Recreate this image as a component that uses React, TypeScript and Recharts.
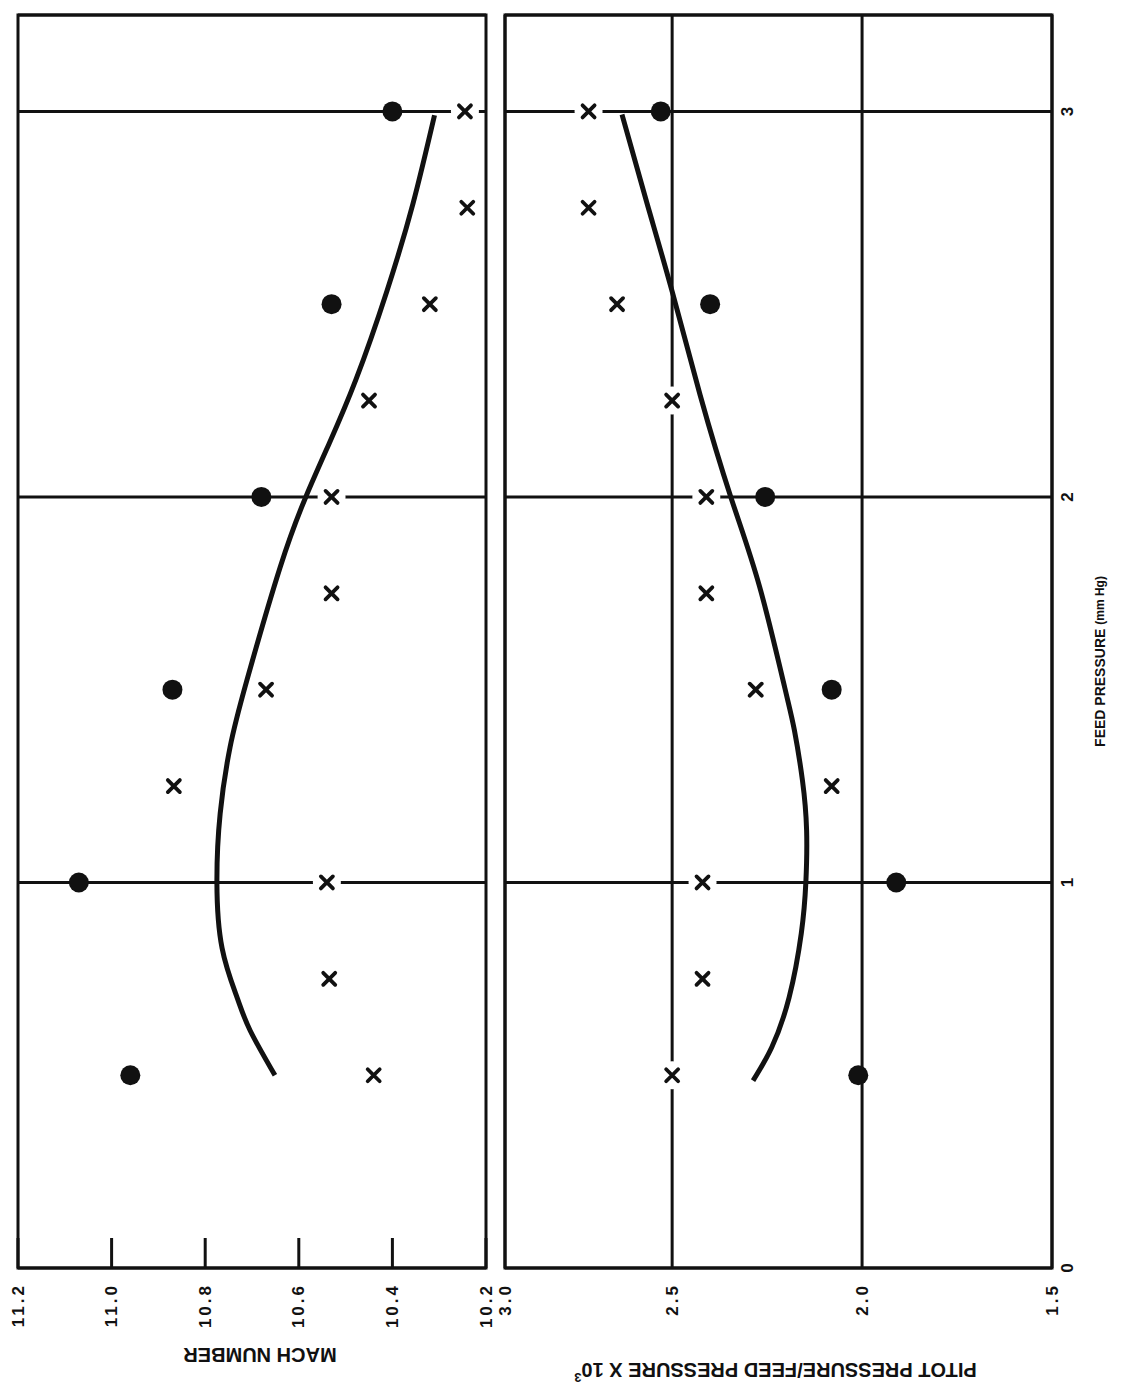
import React from 'react';
import { ComposedChart, XAxis, YAxis, Line, Scatter, ReferenceArea, CartesianGrid, Label } from 'recharts';

// Feed pressure (mm Hg) axis
const feedTicks = [0, 1, 2, 3];
const feedDomain = [0, 3.25];

// Mach number panel
const machTicks = [10.2, 10.4, 10.6, 10.8, 11.0, 11.2];
const machDomain = [10.2, 11.2];
const machCircles = [
  { fp: 0.5, v: 10.96 },
  { fp: 1.0, v: 11.07 },
  { fp: 1.5, v: 10.87 },
  { fp: 2.0, v: 10.68 },
  { fp: 2.5, v: 10.53 },
  { fp: 3.0, v: 10.4 },
];
const machCrosses = [
  { fp: 0.5, v: 10.44 },
  { fp: 0.75, v: 10.535 },
  { fp: 1.0, v: 10.54 },
  { fp: 1.25, v: 10.867 },
  { fp: 1.5, v: 10.67 },
  { fp: 1.75, v: 10.53 },
  { fp: 2.0, v: 10.53 },
  { fp: 2.25, v: 10.45 },
  { fp: 2.5, v: 10.32 },
  { fp: 2.75, v: 10.24 },
  { fp: 3.0, v: 10.245 },
];
const machFit = [
  { fp: 0.5, v: 10.651 },
  { fp: 0.616, v: 10.704 },
  { fp: 0.702, v: 10.732 },
  { fp: 0.83, v: 10.764 },
  { fp: 1.0, v: 10.775 },
  { fp: 1.179, v: 10.768 },
  { fp: 1.35, v: 10.747 },
  { fp: 1.524, v: 10.711 },
  { fp: 1.817, v: 10.64 },
  { fp: 2.0, v: 10.585 },
  { fp: 2.136, v: 10.536 },
  { fp: 2.304, v: 10.478 },
  { fp: 2.533, v: 10.412 },
  { fp: 2.761, v: 10.356 },
  { fp: 2.99, v: 10.31 },
];

// Pitot pressure / feed pressure x 10^3 panel
const pitotTicks = [1.5, 2.0, 2.5, 2.94];
const pitotTickLabels = ['1.5', '2.0', '2.5', '3.0'];
const pitotDomain = [1.5, 2.94];
const pitotCircles = [
  { fp: 0.5, v: 2.01 },
  { fp: 1.0, v: 1.91 },
  { fp: 1.5, v: 2.08 },
  { fp: 2.0, v: 2.255 },
  { fp: 2.5, v: 2.4 },
  { fp: 3.0, v: 2.53 },
];
const pitotCrosses = [
  { fp: 0.5, v: 2.5 },
  { fp: 0.75, v: 2.42 },
  { fp: 1.0, v: 2.42 },
  { fp: 1.25, v: 2.08 },
  { fp: 1.5, v: 2.28 },
  { fp: 1.75, v: 2.41 },
  { fp: 2.0, v: 2.41 },
  { fp: 2.25, v: 2.5 },
  { fp: 2.5, v: 2.645 },
  { fp: 2.75, v: 2.72 },
  { fp: 3.0, v: 2.72 },
];
const pitotFit = [
  { fp: 0.486, v: 2.287 },
  { fp: 0.572, v: 2.238 },
  { fp: 0.702, v: 2.192 },
  { fp: 0.868, v: 2.16 },
  { fp: 1.0, v: 2.148 },
  { fp: 1.135, v: 2.146 },
  { fp: 1.265, v: 2.157 },
  { fp: 1.394, v: 2.178 },
  { fp: 1.503, v: 2.203 },
  { fp: 1.768, v: 2.27 },
  { fp: 1.998, v: 2.345 },
  { fp: 2.263, v: 2.426 },
  { fp: 2.533, v: 2.5 },
  { fp: 2.761, v: 2.566 },
  { fp: 2.992, v: 2.632 },
];

const FONT = '"Liberation Sans", Arial, Helvetica, sans-serif';
const INK = '#111';

const Dot = (p: any) => <circle cx={p.cx} cy={p.cy} r={10} fill={INK} />;

const Cross = (p: any) => {
  const s = 6;
  const { cx, cy } = p;
  return (
    <g>
      <circle cx={cx} cy={cy} r={14} fill="#fff" />
      <path
        d={`M${cx - s},${cy - s}L${cx + s},${cy + s}M${cx - s},${cy + s}L${cx + s},${cy - s}`}
        stroke={INK}
        strokeWidth={3.8}
        strokeLinecap="round"
      />
    </g>
  );
};

const EmptyTick = () => <g />;

const MachTick = (props: any) => {
  const { x, y, payload } = props;
  return (
    <g>
      <line x1={x + 15} x2={x + 45} y1={y} y2={y} stroke={INK} strokeWidth={3} />
      <text
        x={x}
        y={y}
        textAnchor="end"
        dominantBaseline="central"
        fontSize={17}
        fontWeight="bold"
        letterSpacing={3}
        fontFamily={FONT}
        fill={INK}
      >
        {Number(payload.value).toFixed(1)}
      </text>
    </g>
  );
};

const PitotTick = (props: any) => {
  const { x, y, payload, index } = props;
  return (
    <text
      x={x}
      y={y}
      textAnchor="end"
      dominantBaseline="central"
      fontSize={17}
      fontWeight="bold"
      letterSpacing={3}
      fontFamily={FONT}
      fill={INK}
    >
      {pitotTickLabels[index] ?? String(payload.value)}
    </text>
  );
};

const FeedTick = (props: any) => {
  const { x, y, payload } = props;
  return (
    <text
      x={x}
      y={y}
      textAnchor="middle"
      dominantBaseline="central"
      fontSize={17}
      fontWeight="bold"
      fontFamily={FONT}
      fill={INK}
    >
      {payload.value}
    </text>
  );
};

const MachTitle = (props: any) => {
  const vb = props.viewBox || {};
  const cx = vb.x + 31;
  const cy = vb.y + vb.height / 2 + 8;
  return (
    <text
      x={cx}
      y={cy}
      transform={`rotate(-90, ${cx}, ${cy})`}
      textAnchor="middle"
      dominantBaseline="central"
      fontSize={20}
      fontWeight="bold"
      fontFamily={FONT}
      fill={INK}
    >
      MACH NUMBER
    </text>
  );
};

const PitotTitle = (props: any) => {
  const vb = props.viewBox || {};
  const cx = vb.x + 16;
  const cy = vb.y + vb.height / 2 - 3;
  return (
    <text
      x={cx}
      y={cy}
      transform={`rotate(-90, ${cx}, ${cy})`}
      textAnchor="middle"
      dominantBaseline="central"
      fontSize={20}
      fontWeight="bold"
      fontFamily={FONT}
      fill={INK}
    >
      PITOT PRESSURE/FEED PRESSURE X 10
      <tspan fontSize={13} dy={-8}>3</tspan>
    </text>
  );
};

const FeedTitle = (props: any) => {
  const vb = props.viewBox || {};
  const cx = vb.x + vb.width / 2 - 20;
  const cy = vb.y + 48;
  return (
    <text
      x={cx}
      y={cy}
      textAnchor="middle"
      dominantBaseline="central"
      fontWeight="bold"
      fontFamily={FONT}
      fill={INK}
    >
      <tspan fontSize={14}>FEED PRESSURE </tspan>
      <tspan fontSize={12}>(mm Hg)</tspan>
    </text>
  );
};

export default function App() {
  return (
    <div
      style={{
        position: 'absolute',
        left: 0,
        top: 0,
        width: 1386,
        height: 1122,
        background: '#fff',
        transformOrigin: '0 0',
        transform: 'translate(0px, 1386px) rotate(-90deg)',
      }}
    >
      <div style={{ position: 'absolute', left: 0, top: 0 }}>
        <ComposedChart width={1386} height={495} margin={{ top: 18, right: 15, bottom: 0, left: 0 }}>
          <CartesianGrid horizontal={false} stroke={INK} strokeWidth={3} strokeDasharray="" />
          <XAxis
            type="number"
            dataKey="fp"
            domain={feedDomain}
            ticks={feedTicks}
            interval={0}
            height={9}
            tickSize={0}
            tick={<EmptyTick />}
            axisLine={false}
            tickLine={false}
          />
          <YAxis
            type="number"
            dataKey="v"
            domain={machDomain}
            ticks={machTicks}
            interval={0}
            width={118}
            tickSize={0}
            tickMargin={15}
            axisLine={false}
            tickLine={false}
            tick={<MachTick />}
          >
            <Label content={<MachTitle />} />
          </YAxis>
          <ReferenceArea
            x1={feedDomain[0]}
            x2={feedDomain[1]}
            y1={machDomain[0]}
            y2={machDomain[1]}
            fill="none"
            stroke={INK}
            strokeWidth={3}
          />
          <Line
            data={machFit}
            dataKey="v"
            type="natural"
            stroke={INK}
            strokeWidth={5}
            dot={false}
            activeDot={false}
            isAnimationActive={false}
          />
          <Scatter data={machCrosses} dataKey="v" shape={<Cross />} isAnimationActive={false} />
          <Scatter data={machCircles} dataKey="v" shape={<Dot />} isAnimationActive={false} />
        </ComposedChart>
      </div>
      <div style={{ position: 'absolute', left: 0, top: 495 }}>
        <ComposedChart width={1386} height={627} margin={{ top: 10, right: 15, bottom: 10, left: 0 }}>
          <CartesianGrid stroke={INK} strokeWidth={3} strokeDasharray="" />
          <XAxis
            type="number"
            dataKey="fp"
            domain={feedDomain}
            ticks={feedTicks}
            interval={0}
            height={60}
            tickSize={0}
            tickMargin={15}
            axisLine={false}
            tickLine={false}
            tick={<FeedTick />}
          >
            <Label content={<FeedTitle />} />
          </XAxis>
          <YAxis
            type="number"
            dataKey="v"
            domain={pitotDomain}
            ticks={pitotTicks}
            interval={0}
            width={118}
            tickSize={0}
            tickMargin={15}
            axisLine={false}
            tickLine={false}
            tick={<PitotTick />}
          >
            <Label content={<PitotTitle />} />
          </YAxis>
          <ReferenceArea
            x1={feedDomain[0]}
            x2={feedDomain[1]}
            y1={pitotDomain[0]}
            y2={pitotDomain[1]}
            fill="none"
            stroke={INK}
            strokeWidth={3}
          />
          <Line
            data={pitotFit}
            dataKey="v"
            type="natural"
            stroke={INK}
            strokeWidth={5}
            dot={false}
            activeDot={false}
            isAnimationActive={false}
          />
          <Scatter data={pitotCrosses} dataKey="v" shape={<Cross />} isAnimationActive={false} />
          <Scatter data={pitotCircles} dataKey="v" shape={<Dot />} isAnimationActive={false} />
        </ComposedChart>
      </div>
    </div>
  );
}
